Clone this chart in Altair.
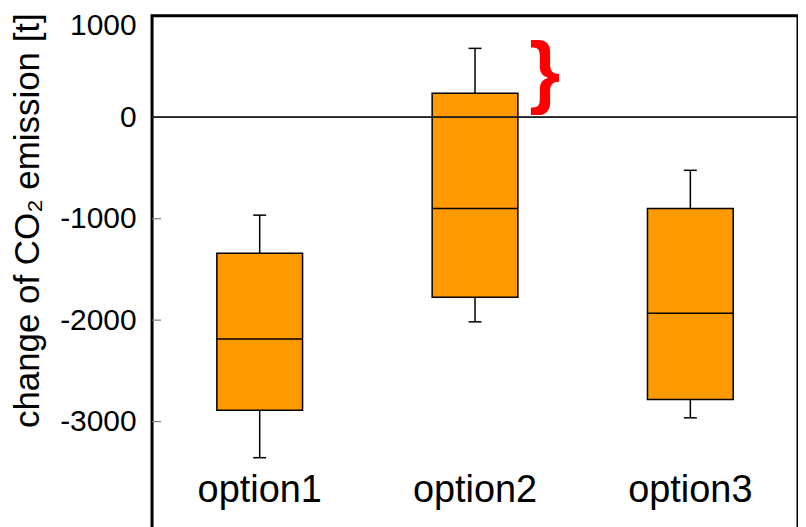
import altair as alt
import pandas as pd

# ---- data ----
categories = ["option1", "option2", "option3"]
whisker_low = [-3356, -2017, -2963]
q1 = [-2888, -1774, -2783]
median = [-2187, -899, -1931]
q3 = [-1341, 237, -899]
whisker_high = [-965, 679, -523]

y_ticks = [1000, 0, -1000, -2000, -3000]
inner_ticks = [-1000, -2000, -3000]

brace_category = ["option2"]
brace_mid = [390]

df = pd.DataFrame({
    "cat": categories,
    "low": whisker_low,
    "q1": q1,
    "med": median,
    "q3": q3,
    "high": whisker_high,
})
ticks_df = pd.DataFrame({"v": inner_ticks})
brace_df = pd.DataFrame({"cat": brace_category, "y": brace_mid, "t": ["}"]})

FONT = "Liberation Sans"
ORANGE = "#FF9900"

yscale = alt.Scale(domain=[-4100, 1000], nice=False, zero=False)
xscale = alt.Scale(domain=categories, paddingInner=0, paddingOuter=0)

x_enc = alt.X(
    "cat:N",
    scale=xscale,
    sort=categories,
    axis=alt.Axis(
        title=None,
        orient="bottom",
        offset=-32,
        ticks=False,
        domain=False,
        labelAngle=0,
        labelFont=FONT,
        labelFontSize=38,
        labelColor="black",
        labelBaseline="alphabetic",
        labelPadding=0,
    ),
)

y_axis = alt.Axis(
    title="change of CO₂ emission [t]",
    values=y_ticks,
    labelExpr="'' + datum.value",
    ticks=False,
    tickSize=0,
    domain=False,
    grid=False,
    labelFont=FONT,
    labelFontSize=30,
    labelColor="black",
    labelPadding=16,
    labelFlush=True,
    labelFlushOffset=5,
    titleFont=FONT,
    titleFontSize=35,
    titleFontWeight="normal",
    titleColor="black",
    titleAngle=270,
    titleAlign="center",
    titleBaseline="alphabetic",
    titleX=-114,
    titleY=205,
)

boxes = alt.Chart(df).mark_bar(
    size=86, color=ORANGE, stroke="black", strokeWidth=1.5
).encode(
    x=x_enc,
    y=alt.Y("q1:Q", scale=yscale, axis=y_axis),
    y2="q3:Q",
)

whisk_up = alt.Chart(df).mark_rule(color="black", strokeWidth=1.5).encode(
    x=alt.X("cat:N", scale=xscale, sort=categories),
    y=alt.Y("q3:Q", scale=yscale),
    y2="high:Q",
)
whisk_down = alt.Chart(df).mark_rule(color="black", strokeWidth=1.5).encode(
    x=alt.X("cat:N", scale=xscale, sort=categories),
    y=alt.Y("low:Q", scale=yscale),
    y2="q1:Q",
)
med_ticks = alt.Chart(df).mark_tick(size=86, thickness=1.5, color="black", opacity=1).encode(
    x=alt.X("cat:N", scale=xscale, sort=categories),
    y=alt.Y("med:Q", scale=yscale),
)
cap_hi = alt.Chart(df).mark_tick(size=13, thickness=1.5, color="black", opacity=1).encode(
    x=alt.X("cat:N", scale=xscale, sort=categories),
    y=alt.Y("high:Q", scale=yscale),
)
cap_lo = alt.Chart(df).mark_tick(size=13, thickness=1.5, color="black", opacity=1).encode(
    x=alt.X("cat:N", scale=xscale, sort=categories),
    y=alt.Y("low:Q", scale=yscale),
)

zero_line = alt.Chart(df).mark_rule(color="#222222", strokeWidth=1.3).encode(
    y=alt.Y(datum=0, scale=yscale)
)

inner = alt.Chart(ticks_df).mark_rule(color="#808080", strokeWidth=1.2).encode(
    y=alt.Y("v:Q", scale=yscale),
    x=alt.value(0),
    x2=alt.value(9),
)

brace = alt.Chart(brace_df).mark_text(
    font=FONT, fontSize=80, fontWeight="bold", color="#FF0000",
    dx=70, dy=-4, baseline="middle", align="center"
).encode(
    x=alt.X("cat:N", scale=xscale, sort=categories),
    y=alt.Y("y:Q", scale=yscale),
    text="t:N",
)

chart = alt.layer(
    boxes, whisk_up, whisk_down, med_ticks, cap_hi, cap_lo, zero_line, inner, brace
).properties(
    width=648,
    height=519,
    autosize="none",
    padding={"left": 144.5, "top": 7, "right": 0, "bottom": 0},
).configure(
    background="white"
).configure_view(
    stroke="black", strokeWidth=3
)

chart.save("out.html", embed_options={"renderer": "svg", "actions": False})
